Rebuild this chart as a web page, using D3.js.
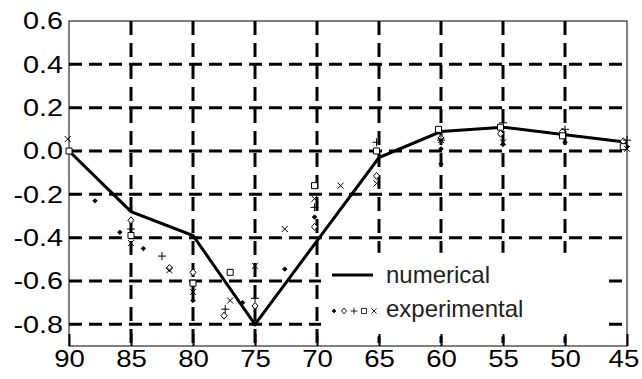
<!DOCTYPE html>
<html>
<head>
<meta charset="utf-8">
<script src="https://cdn.jsdelivr.net/npm/d3@7"></script>
<style>
  body { margin: 0; background: #fff; }
  svg { display: block; font-family: "Liberation Sans", Arial, sans-serif; }
</style>
</head>
<body>
<div id="chart"></div>
<script>
// numerical curve
const numAngles = [90, 85, 80, 75, 70, 65, 60, 55, 50, 45];
const numValues = [0.0, -0.28, -0.39, -0.80, -0.415, -0.03, 0.09, 0.11, 0.075, 0.04];

// experimental points, one list per marker
const dotAngles = [87.9, 85.9, 84, 80, 76, 72.6, 70.2, 60, 60, 55, 50, 45];
const dotValues = [-0.23, -0.375, -0.45, -0.69, -0.70, -0.545, -0.305, 0.01, -0.06, 0.03, 0.04, 0.02];
const diamondAngles = [85, 81.9, 80, 77.5, 75, 70.2, 65.2, 60, 55.2, 50.2, 45.3];
const diamondValues = [-0.32, -0.54, -0.56, -0.76, -0.715, -0.35, -0.115, 0.06, 0.08, 0.09, 0.045];
const plusAngles = [85, 82.5, 77.4, 75, 70.2, 65.2, 60, 55, 50, 45];
const plusValues = [-0.36, -0.485, -0.73, -0.68, -0.26, 0.04, 0.05, 0.13, 0.10, 0.05];
const squareAngles = [90, 85, 80, 77, 70.2, 65.2, 60.2, 55.2, 50.2, 45.3];
const squareValues = [0.0, -0.39, -0.61, -0.56, -0.16, 0.0, 0.10, 0.11, 0.07, 0.02];
const crossAngles = [90.1, 85, 81.9, 80, 77, 75, 72.6, 70.2, 68.1, 65.2, 60, 55, 45];
const crossValues = [0.055, -0.425, -0.55, -0.65, -0.69, -0.53, -0.36, -0.22, -0.16, -0.15, 0.05, 0.04, 0.01];

const xTicks = [90, 85, 80, 75, 70, 65, 60, 55, 50, 45];
const yTicks = [-0.8, -0.6, -0.4, -0.2, 0.0, 0.2, 0.4, 0.6];
const yTickLabels = ["-0.8", "-0.6", "-0.4", "-0.2", "0.0", "0.2", "0.4", "0.6"];
const legendLabels = ["numerical", "experimental"];

const width = 642, height = 379;
const margin = {top: 21, right: 15, bottom: 33, left: 69};
const stretch = 1.2; // tick labels in the picture are drawn wide

const svg = d3.select("#chart").append("svg")
  .attr("width", width)
  .attr("height", height);

const x = d3.scaleLinear().domain([90, 45]).range([margin.left, width - margin.right]);
const y = d3.scaleLinear().domain([-0.9, 0.6]).range([height - margin.bottom, margin.top]);

// dashed grid
svg.append("g").attr("class", "hgrid")
  .selectAll("line")
  .data(yTicks.filter(d => d < 0.6))
  .enter().append("line")
  .attr("x1", x(90)).attr("x2", x(45))
  .attr("y1", d => y(d)).attr("y2", d => y(d))
  .attr("stroke", "#000").attr("stroke-width", 3)
  .attr("stroke-dasharray", "13,7");

svg.append("g").attr("class", "vgrid")
  .selectAll("line")
  .data(xTicks.filter(d => d < 90 && d > 45))
  .enter().append("line")
  .attr("x1", d => x(d)).attr("x2", d => x(d))
  .attr("y1", y(0.6)).attr("y2", y(-0.9))
  .attr("stroke", "#000").attr("stroke-width", 3)
  .attr("stroke-dasharray", "14,8");

// legend backdrop hides the grid behind it
svg.append("rect")
  .attr("x", x(70) + 4).attr("y", y(-0.47))
  .attr("width", x(46.5) - x(70) - 4).attr("height", y(-0.855) - y(-0.47))
  .attr("fill", "#fff");

// frame
svg.append("rect")
  .attr("x", x(90)).attr("y", y(0.6))
  .attr("width", x(45) - x(90)).attr("height", y(-0.9) - y(0.6))
  .attr("fill", "none").attr("stroke", "#000").attr("stroke-width", 1);

// bottom axis with inward ticks
const xAxis = svg.append("g")
  .attr("transform", "translate(0," + y(-0.9) + ")")
  .call(d3.axisBottom(x).tickValues(xTicks).tickSizeInner(-12).tickSizeOuter(0).tickPadding(5).tickFormat(d3.format("d")));
xAxis.select(".domain").remove();
xAxis.selectAll(".tick line").attr("stroke", "#000").attr("stroke-width", 2);
xAxis.selectAll("text")
  .attr("font-size", 23).attr("fill", "#000")
  .attr("dx", d => d === 45 ? -3 : 0)
  .attr("transform", "scale(" + stretch + ",1)");

const yAxis = svg.append("g")
  .attr("transform", "translate(" + x(90) + ",0)")
  .call(d3.axisLeft(y).tickValues(yTicks).tickSize(0).tickPadding(6).tickFormat((d, i) => yTickLabels[i]));
yAxis.select(".domain").remove();
yAxis.selectAll("text")
  .attr("font-size", 24).attr("fill", "#000")
  .attr("x", -6 / stretch)
  .attr("transform", "scale(" + stretch + ",1)");

// numerical line
const line = d3.line().x(d => x(d[0])).y(d => y(d[1]));
svg.append("path")
  .datum(numAngles.map((a, i) => [a, numValues[i]]))
  .attr("fill", "none").attr("stroke", "#000").attr("stroke-width", 3)
  .attr("d", line);

// markers
const markers = {
  dot: "M0,-2.2L2.2,0L0,2.2L-2.2,0Z",
  diamond: "M0,-3.5L3,0L0,3.5L-3,0Z",
  plus: "M-4,0H4M0,-4V4",
  square: "M-3,-3H3V3H-3Z",
  cross: "M-3,-3L3,3M-3,3L3,-3"
};
const series = [
  {m: "dot", a: dotAngles, v: dotValues, fill: "#000"},
  {m: "diamond", a: diamondAngles, v: diamondValues, fill: "#fff"},
  {m: "plus", a: plusAngles, v: plusValues, fill: "none"},
  {m: "square", a: squareAngles, v: squareValues, fill: "#fff"},
  {m: "cross", a: crossAngles, v: crossValues, fill: "none"}
];
series.forEach(s => {
  svg.append("g").attr("class", "pts-" + s.m)
    .selectAll("path")
    .data(s.a.map((a, i) => [a, s.v[i]]))
    .enter().append("path")
    .attr("transform", d => "translate(" + x(d[0]) + "," + y(d[1]) + ")")
    .attr("d", markers[s.m])
    .attr("fill", s.fill).attr("stroke", "#000").attr("stroke-width", 1);
});

// legend
const lg = svg.append("g").attr("class", "legend");
lg.append("line")
  .attr("x1", 332).attr("x2", 373).attr("y1", 275).attr("y2", 275)
  .attr("stroke", "#000").attr("stroke-width", 3);
series.forEach((s, i) => {
  lg.append("path")
    .attr("transform", "translate(" + (334 + i * 10) + ",311) scale(0.85)")
    .attr("d", markers[s.m])
    .attr("fill", s.fill).attr("stroke", "#000").attr("stroke-width", 1);
});
lg.selectAll("text")
  .data(legendLabels)
  .enter().append("text")
  .attr("x", 386).attr("y", (d, i) => 283 + i * 34)
  .attr("font-size", 24).attr("fill", "#222")
  .text(d => d);
</script>
</body>
</html>
